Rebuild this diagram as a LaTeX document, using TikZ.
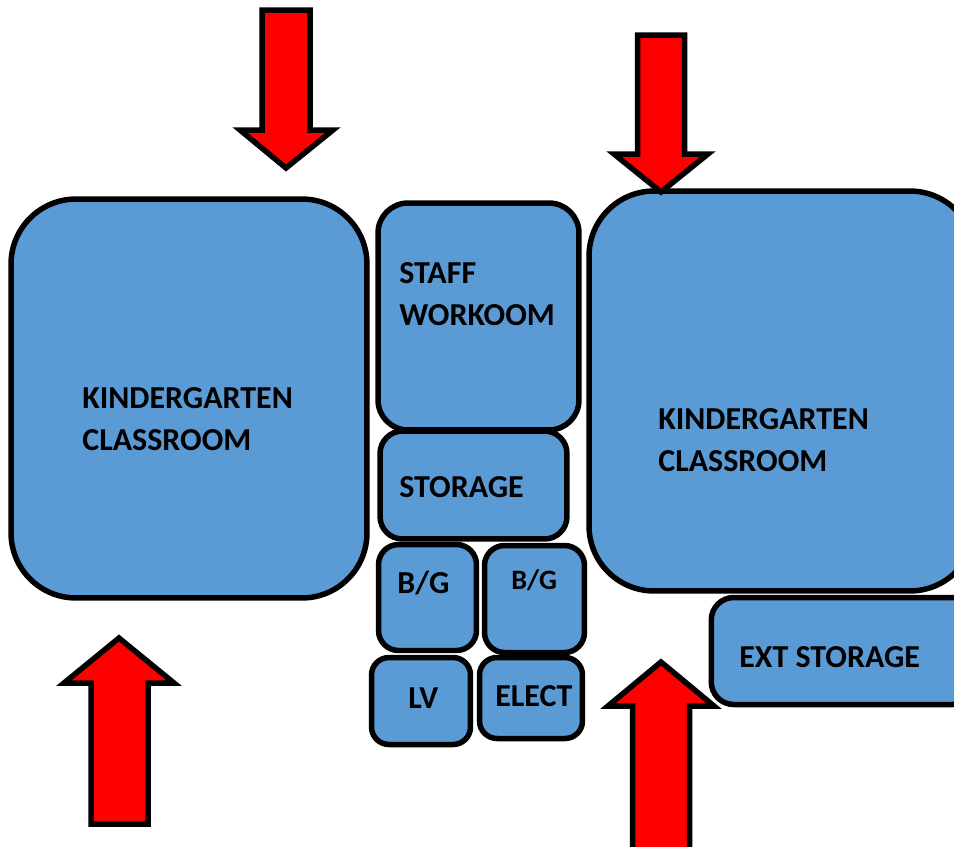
\documentclass[tikz,border=0pt]{standalone}
\usepackage{fontspec}
\setmainfont{Carlito}
\usetikzlibrary{positioning}

\begin{document}
\begin{tikzpicture}[
  x=0.02cm, y=-0.02cm,
  room/.style={draw, line width=0.11cm, fill=roomblue, inner sep=0pt},
  tag/.style={font=\fontsize{18.2}{24}\selectfont\bfseries, text=black, inner sep=0pt, align=left},
  redarrow/.style={draw, line width=0.11cm, fill=red, miter limit=10},
]
\definecolor{roomblue}{HTML}{5B9BD5}
\clip (0,0) rectangle (954,846);

% Classrooms
\node[room, rounded corners=1.3cm, minimum width=7.12cm, minimum height=7.98cm] (classleft) at (189,398.5) {};
\node[room, rounded corners=1.3cm, minimum width=7.72cm, minimum height=8cm] (classright) at (782,391) {};

% Core rooms
\node[room, rounded corners=0.6cm, minimum width=4.02cm, minimum height=4.54cm] (staff) at (478.5,316.5) {};
\node[room, rounded corners=0.45cm, minimum width=3.74cm, minimum height=2.16cm] (storage) at (473.5,485) {};
\node[room, rounded corners=0.4cm, minimum width=1.96cm, minimum height=2.12cm] (bgleft) at (427.5,597.5) {};
\node[room, rounded corners=0.4cm, minimum width=2cm, minimum height=2.14cm] (bgright) at (534.5,599) {};
\node[room, rounded corners=0.35cm, minimum width=1.98cm, minimum height=1.74cm] (lv) at (421,701) {};
\node[room, rounded corners=0.35cm, minimum width=2.06cm, minimum height=1.62cm] (elect) at (531,698) {};
\node[room, rounded corners=0.45cm, minimum width=5.27cm, minimum height=2.14cm] (ext) at (843,651) {};

% Labels
\node[tag, anchor=west] (classlefttag) at (82,419) {KINDERGARTEN\\CLASSROOM};
\node[tag, anchor=west] (classrighttag) at (658,440) {KINDERGARTEN\\CLASSROOM};
\node[tag, anchor=west] (stafftag) at (399,294) {STAFF\\WORKOOM};
\node[tag, anchor=base west] (storagetag) at (399,497) {STORAGE};
\node[tag, anchor=base west] (bglefttag) at (397,593) {B/G};
\node[tag, anchor=base west, font=\fontsize{16}{20}\selectfont\bfseries] (bgrighttag) at (511,589) {B/G};
\node[tag, anchor=base west] (lvtag) at (408,708) {LV};
\node[tag, anchor=base west] (electtag) at (495,706) {ELECT};
\node[tag, anchor=base west] (exttag) at (739,667) {EXT STORAGE};

% Entry arrows
\draw[redarrow] (262,10) -- (310,10) -- (310,130) -- (333,130) -- (286,168) -- (240,130) -- (262,130) -- cycle;
\draw[redarrow] (637.5,35) -- (684.5,35) -- (684.5,154) -- (708,154) -- (661,192) -- (614,154) -- (637.5,154) -- cycle;
\draw[redarrow] (91,824) -- (148,824) -- (148,683) -- (174,683) -- (119,638) -- (64,683) -- (91,683) -- cycle;
\draw[redarrow] (632.5,870) -- (689.5,870) -- (689.5,706) -- (714,706) -- (661,662) -- (608,706) -- (632.5,706) -- cycle;
\end{tikzpicture}
\end{document}
